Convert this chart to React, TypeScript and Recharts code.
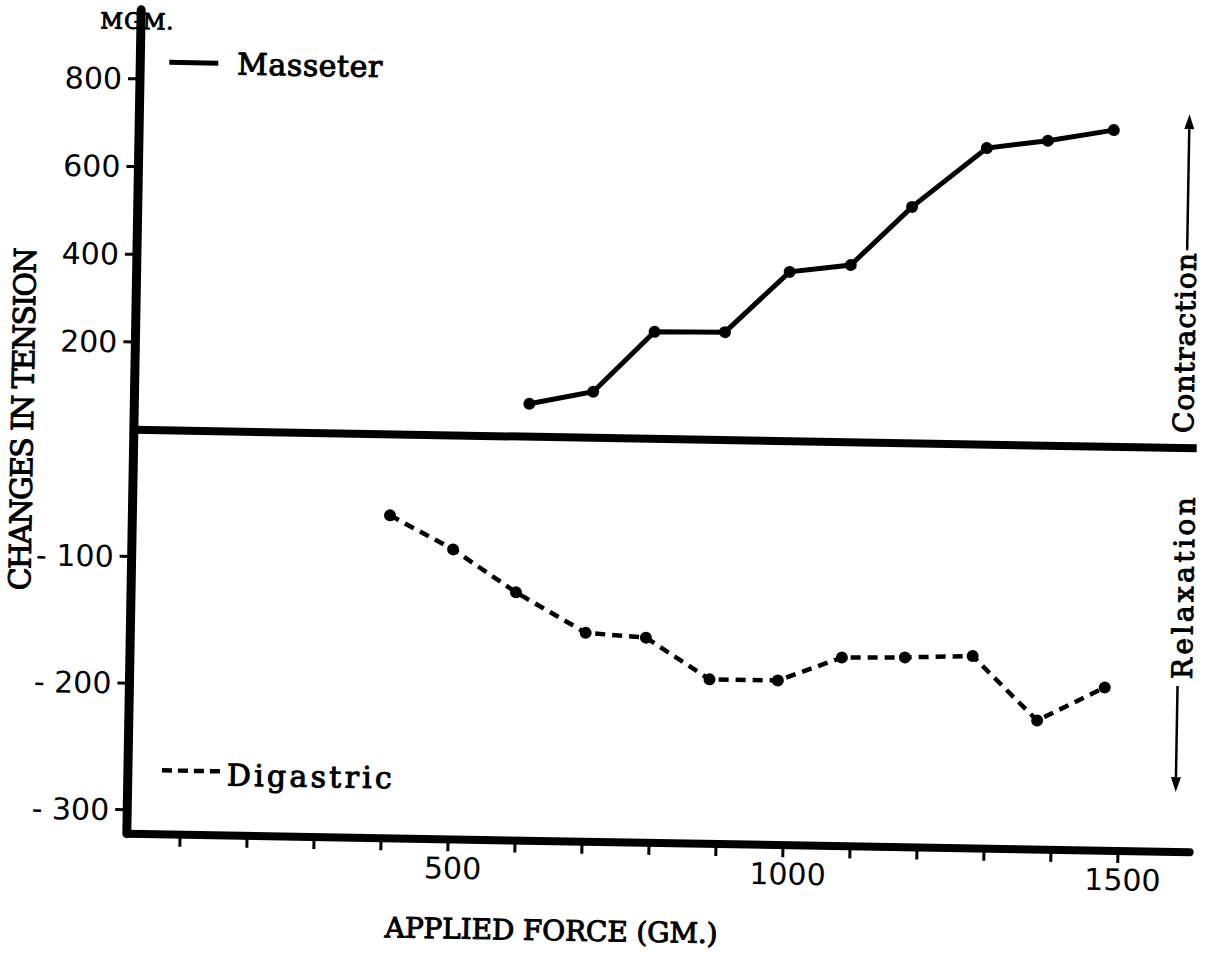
import React from "react";
import { LineChart, Line, XAxis, YAxis, ReferenceLine, Customized } from "recharts";

// applied force (gm) and change in tension (mgm)
const masseterForce = [610, 705, 795, 900, 995, 1086, 1176, 1286, 1377, 1475];
const masseterTension = [75, 105, 244, 246, 386, 404, 539, 676, 695, 722];

const digastricForce = [405, 500, 595, 700, 790, 886, 988, 1083, 1177, 1278, 1376, 1476];
const digastricTension = [-64, -90, -123, -154, -157, -189, -189, -170, -169, -167, -217, -190];

const forceTicks = [100, 200, 300, 400, 500, 600, 700, 800, 900, 1000, 1100, 1200, 1300, 1400, 1500];
const forceLabels = [500, 1000, 1500];
const contractionTicks = [200, 400, 600, 800];
const relaxationTicks = [-100, -200, -300];

const masseterData = masseterForce.map((force, i) => ({ force, tension: masseterTension[i] }));
const digastricData = digastricForce.map((force, i) => ({ force, tension: digastricTension[i] }));

const NUM_FONT = "'DejaVu Sans', sans-serif";
const TYPE_FONT = "'DejaVu Serif', 'Liberation Serif', serif";

const numTick = { fill: "#000", fontSize: 30, fontFamily: NUM_FONT };
const tickLine = { stroke: "#000", strokeWidth: 3 };

function Arrow({ x, y1, y2 }: { x: number; y1: number; y2: number }) {
  // y2 is the tip
  const dir = y2 < y1 ? -1 : 1;
  const base = y2 - dir * 15;
  return (
    <g>
      <line x1={x} y1={y1} x2={x} y2={base} stroke="#000" strokeWidth={2.5} />
      <polygon points={`${x - 5},${base} ${x + 5},${base} ${x},${y2}`} fill="#000" stroke="none" />
    </g>
  );
}

function Annotations() {
  return (
    <g fill="#000" stroke="#000" strokeWidth={1} fontFamily={TYPE_FONT}>
      <text x={129} y={37} textAnchor="middle" fontSize={22} textLength={73} lengthAdjust="spacing">
        MGM.
      </text>

      <line x1={162} y1={70} x2={211} y2={70} strokeWidth={5} />
      <text x={230} y={81} fontSize={30} textLength={145} lengthAdjust="spacing">
        Masseter
      </text>

      <line x1={167} y1={778} x2={225} y2={778} strokeWidth={4.5} strokeDasharray="10 6" />
      <text x={232} y={792} fontSize={30} textLength={165} lengthAdjust="spacing">
        Digastric
      </text>

      <text
        x={32}
        y={429}
        transform="rotate(-90 32 429)"
        textAnchor="middle"
        fontSize={30}
        textLength={343}
        lengthAdjust="spacing"
      >
        CHANGES IN TENSION
      </text>

      <text
        x={1192}
        y={333}
        transform="rotate(-90 1192 333)"
        textAnchor="middle"
        fontSize={28}
        textLength={180}
        lengthAdjust="spacing"
      >
        Contraction
      </text>
      <Arrow x={1183} y1={240} y2={104} />

      <text
        x={1195}
        y={578}
        transform="rotate(-90 1195 578)"
        textAnchor="middle"
        fontSize={28}
        textLength={182}
        lengthAdjust="spacing"
      >
        Relaxation
      </text>
      <Arrow x={1181} y1={676} y2={782} />

      <text x={559} y={941} textAnchor="middle" fontSize={28} textLength={333} lengthAdjust="spacing">
        APPLIED FORCE (GM.)
      </text>
    </g>
  );
}

export default function App() {
  return (
    <div
      style={{
        position: "absolute",
        left: 0,
        top: 0,
        width: 1206,
        height: 966,
        background: "#fff",
        transform: "rotate(1deg)",
        transformOrigin: "603px 483px",
      }}
    >
      <LineChart width={1206} height={966} margin={{ top: 18, right: 10, bottom: 64, left: 0 }}>
        <XAxis
          type="number"
          dataKey="force"
          domain={[22, 1607]}
          allowDataOverflow
          ticks={forceTicks}
          interval={0}
          tickFormatter={(v: number) => (forceLabels.includes(v) ? String(v) : "")}
          axisLine={{ stroke: "#000", strokeWidth: 8, strokeLinecap: "round" }}
          tickLine={tickLine}
          tickSize={12}
          tickMargin={6}
          height={60}
          tick={{ ...numTick, dx: 5 }}
        />
        {/* relaxation scale sits right against the plot, contraction axis carries the line */}
        <YAxis
          yAxisId="dig"
          type="number"
          domain={[-318.9, 331.5]}
          allowDataOverflow
          ticks={relaxationTicks}
          interval={0}
          width={1}
          axisLine={false}
          tickLine={tickLine}
          tickSize={13}
          tickMargin={6}
          tickFormatter={(v: number) => `-\u00a0${Math.abs(v)}`}
          tick={numTick}
        />
        <YAxis
          yAxisId="mas"
          type="number"
          domain={[-920.8, 957.3]}
          allowDataOverflow
          ticks={contractionTicks}
          interval={0}
          width={133}
          axisLine={{ stroke: "#000", strokeWidth: 9, strokeLinecap: "round" }}
          tickLine={tickLine}
          tickSize={12}
          tickMargin={6}
          tick={numTick}
        />
        <ReferenceLine yAxisId="mas" y={0} stroke="#000" strokeWidth={8} />
        <Line
          yAxisId="mas"
          data={masseterData}
          dataKey="tension"
          type="linear"
          stroke="#000"
          strokeWidth={5}
          dot={{ r: 6, fill: "#000", stroke: "none" }}
          isAnimationActive={false}
        />
        <Line
          yAxisId="dig"
          data={digastricData}
          dataKey="tension"
          type="linear"
          stroke="#000"
          strokeWidth={4.5}
          strokeDasharray="10 7"
          dot={{ r: 6, fill: "#000", stroke: "none" }}
          isAnimationActive={false}
        />
        <Customized component={Annotations} />
      </LineChart>
    </div>
  );
}
